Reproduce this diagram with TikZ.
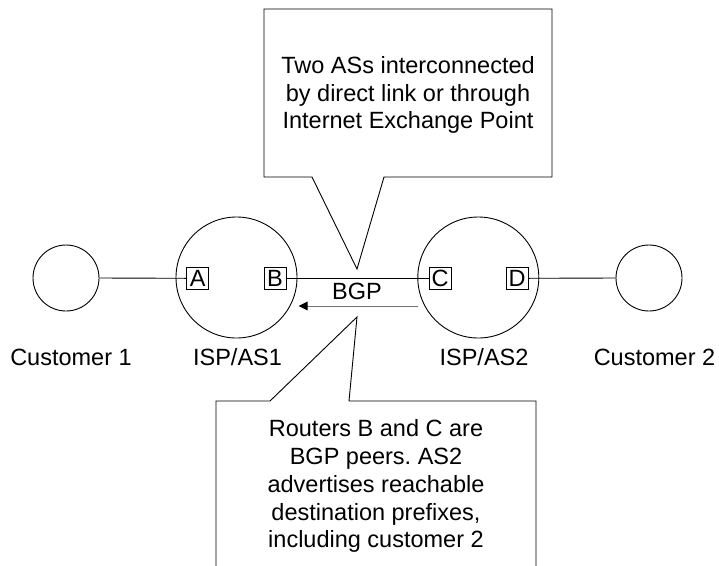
\documentclass[tikz,border=0pt]{standalone}
\usepackage{fontspec}
\setmainfont{Liberation Sans}
\usetikzlibrary{arrows.meta}
\frenchspacing
\begin{document}
\begin{tikzpicture}[x=1pt,y=-1pt,
  every node/.style={font=\fontsize{23.5}{27.7}\selectfont},
  line/.style={draw=black,line width=0.9pt},
  custcircle/.style={circle,draw=black,line width=0.9pt,minimum size=66pt,inner sep=0pt},
  ascircle/.style={circle,draw=black,line width=0.9pt,minimum size=121pt,inner sep=0pt},
  router/.style={rectangle,draw=black,line width=0.9pt,minimum size=22pt,inner sep=0pt},
  label/.style={anchor=base,inner sep=0pt},
  callout/.style={draw=black,fill=white,line width=0.9pt,line join=miter},
  note/.style={align=center,inner sep=0pt}]
\useasboundingbox (0,0) rectangle (719,565);

% networks
\node[custcircle] (cust1) at (66,278) {};
\node[ascircle]   (as1)   at (236.5,277.5) {};
\node[ascircle]   (as2)   at (478.3,277.5) {};
\node[custcircle] (cust2) at (649,278) {};

% border routers
\node[router] (ra) at (197.7,278.3) {A};
\node[router] (rb) at (275,278.3) {B};
\node[router] (rc) at (440,278.3) {C};
\node[router] (rd) at (517,278.3) {D};

% links
\draw[line] (cust1.east) -- (ra.west);
\draw[line] (rb.east) -- (rc.west);
\draw[line] (rd.east) -- (cust2.west);

% BGP advertisement
\node[label] (bgp) at (357,299.3) {BGP};
\coordinate (bgpfrom) at (418,306);
\coordinate (bgpto) at (298.5,306);
\draw[draw=black!55,line width=1pt,-{Triangle[length=9pt,width=8.5pt,color=black]}] (bgpfrom) -- (bgpto);

% captions
\node[label] (lcust1) at (71,365) {Customer 1};
\node[label] (las1)   at (237.5,365) {ISP/AS1};
\node[label] (las2)   at (484,365) {ISP/AS2};
\node[label] (lcust2) at (654.5,365) {Customer 2};

% upper callout
\draw[callout] (264,9) -- (552,9) -- (552,177) -- (384,177) -- (357,269) -- (312,177) -- (264,177) -- cycle;
\node[note] (topnote) at (408,95) {Two ASs interconnected\\by direct link or through\\Internet Exchange Point};

% lower callout (runs off the bottom edge)
\fill[white] (216,566) -- (216,401) -- (270,401) -- (357,317) -- (349,401) -- (536,401) -- (536,566) -- cycle;
\draw[callout,fill=none] (216,566) -- (216,401) -- (270,401) -- (357,317) -- (349,401) -- (536,401) -- (536,566);
\node[note] (botnote) at (376,486.3) {Routers B and C are\\BGP peers. AS2\\advertises reachable\\destination prefixes,\\including customer 2};
\end{tikzpicture}
\end{document}
